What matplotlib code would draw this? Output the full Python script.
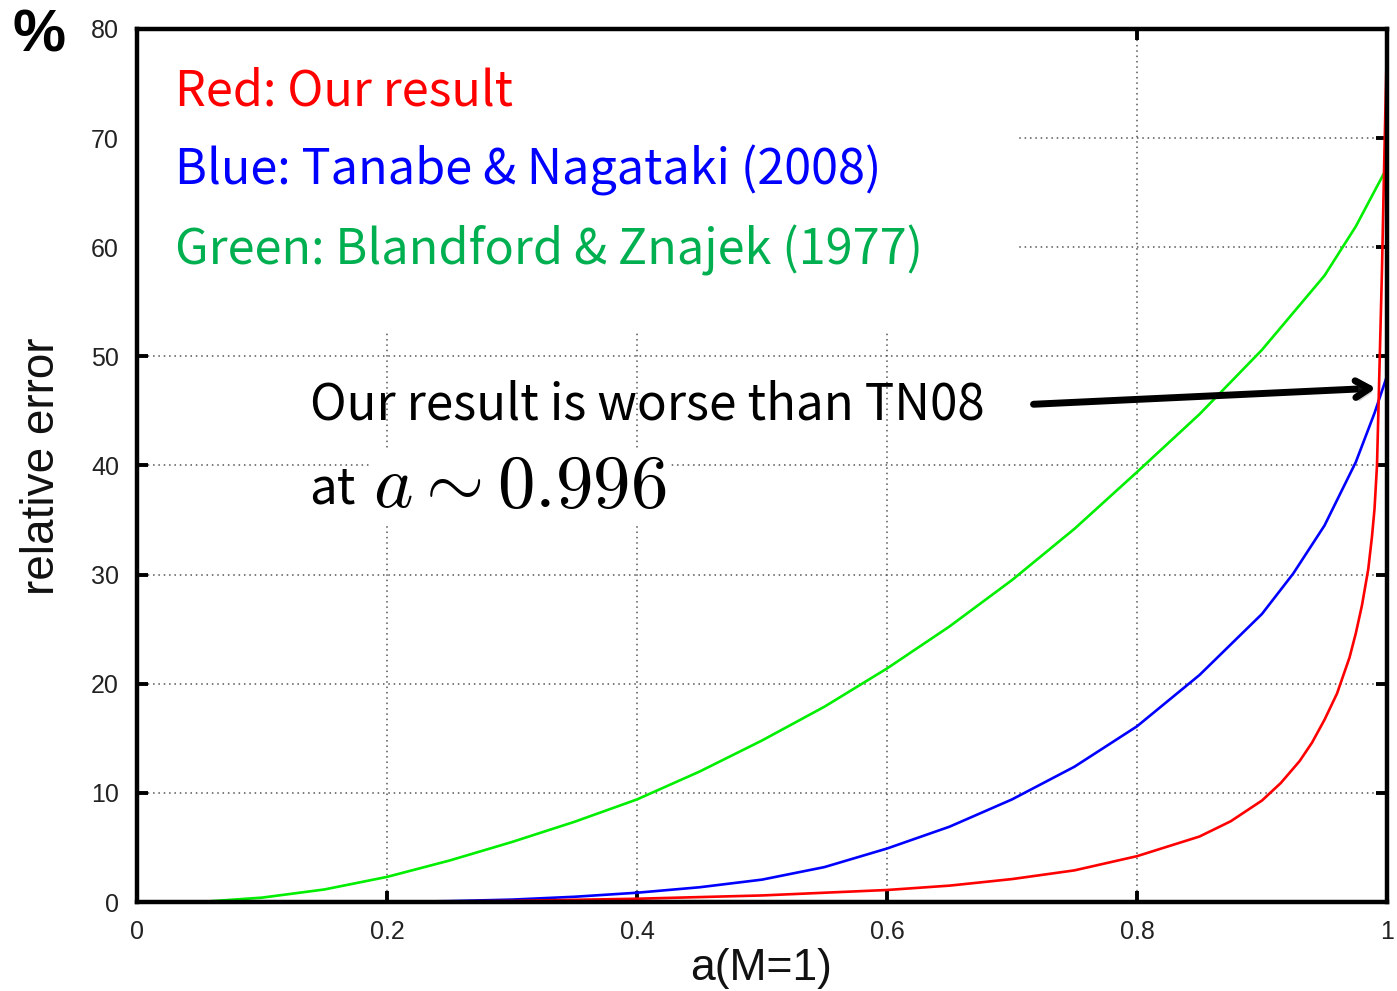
import numpy as np
import matplotlib.pyplot as plt
from matplotlib.patches import Rectangle
import matplotlib.patheffects as pe

plt.rcParams['mathtext.fontset'] = 'cm'

# spin parameter a (M=1) and relative errors in percent
a_green = [0.0, 0.05, 0.1, 0.15, 0.2, 0.25, 0.3, 0.35, 0.4, 0.45, 0.5,
           0.55, 0.6, 0.65, 0.7, 0.75, 0.8, 0.85, 0.9, 0.95, 0.975, 1.0]
err_green = [0.0, 0.0, 0.4, 1.15, 2.3, 3.8, 5.5, 7.35, 9.4, 11.95, 14.8,
             17.9, 21.4, 25.25, 29.5, 34.2, 39.4, 44.7, 50.6, 57.4, 61.9, 67.3]

a_blue = [0.0, 0.1, 0.2, 0.25, 0.3, 0.35, 0.4, 0.45, 0.5, 0.55, 0.6, 0.65,
          0.7, 0.75, 0.8, 0.85, 0.9, 0.925, 0.95, 0.975, 0.99, 1.0]
err_blue = [0.0, 0.0, 0.0, 0.08, 0.22, 0.48, 0.85, 1.35, 2.05, 3.2, 4.9,
            6.9, 9.4, 12.4, 16.1, 20.8, 26.4, 30.1, 34.5, 40.3, 44.8, 48.2]

a_red = [0.0, 0.2, 0.3, 0.4, 0.5, 0.6, 0.65, 0.7, 0.75, 0.8, 0.85, 0.875,
         0.9, 0.915, 0.93, 0.94, 0.95, 0.96, 0.97, 0.975, 0.98, 0.985,
         0.988, 0.99, 0.992, 0.994, 0.996, 0.998, 1.0]
err_red = [0.0, 0.0, 0.1, 0.3, 0.6, 1.1, 1.5, 2.1, 2.9, 4.2, 6.0, 7.4,
           9.3, 10.9, 12.9, 14.6, 16.7, 19.1, 22.4, 24.6, 27.2, 30.5,
           33.5, 36.0, 40.0, 49.0, 58.0, 69.0, 79.0]

xticks = [0, 0.2, 0.4, 0.6, 0.8, 1]
xticklabels = ['0', '0.2', '0.4', '0.6', '0.8', '1']
yticks = [0, 10, 20, 30, 40, 50, 60, 70, 80]

legend_lines = [('Red: Our result', '#ff0000'),
                ('Blue: Tanabe & Nagataki (2008)', '#0000ff'),
                ('Green: Blandford & Znajek (1977)', '#00b050')]

fig = plt.figure(figsize=(13.97, 9.91), dpi=100)
ax = fig.add_axes([137 / 1397, 89 / 991, 1250 / 1397, 873 / 991])

ax.plot(a_green, err_green, color='#00ee00', lw=1.9, zorder=3)
ax.plot(a_blue, err_blue, color='#0000ff', lw=1.9, zorder=3)
ax.plot(a_red, err_red, color='#ff0000', lw=1.9, zorder=3)

ax.set_xlim(0, 1)
ax.set_ylim(0, 80)
ax.set_xticks(xticks)
ax.set_xticklabels(xticklabels)
ax.set_yticks(yticks)
ax.tick_params(direction='in', length=8, width=2.8, top=True, right=True,
               labelsize=18, labelcolor='#222222', pad=13)
for lab in ax.get_xticklabels() + ax.get_yticklabels():
    lab.set_family('Liberation Sans')
for sp in ax.spines.values():
    sp.set_linewidth(3.2)
    sp.set_zorder(5)

ax.grid(True, linestyle=(0, (1, 2.5)), color='#555555', lw=1.1, zorder=1)
ax.set_axisbelow(True)

# white block behind the colour key hides the grid there
ax.add_patch(Rectangle((0, (901 - 330) / 872), (1018 - 137) / 1250, 1,
                       transform=ax.transAxes, facecolor='white',
                       edgecolor='none', zorder=2))

tfont = ['Noto Sans CJK JP', 'DejaVu Sans']
ys = [0.928, 0.838, 0.746]
for (txt, c), y in zip(legend_lines, ys):
    ax.text(0.0304, y, txt, color=c, fontsize=35, family=tfont,
            ha='left', va='center', transform=ax.transAxes, zorder=4)

ax.text(0.138, 0.569, 'Our result is worse than TN08', fontsize=35.5,
        family=tfont, ha='left', va='center', transform=ax.transAxes,
        zorder=4)
ax.text(0.138, 0.456, 'at', fontsize=35.5, family=tfont, ha='left',
        va='baseline', transform=ax.transAxes, zorder=4)
ax.text(0.189, 0.453, r'$a \sim 0.996$', fontsize=54, ha='left',
        va='baseline', transform=ax.transAxes, zorder=4,
        bbox=dict(facecolor='white', edgecolor='none', pad=1))

ax.annotate('', xy=(0.9935, 47.1), xytext=(0.715, 45.6),
            arrowprops=dict(arrowstyle='->, head_length=1.0, head_width=0.6',
                            lw=5, color='black', capstyle='round',
                            path_effects=[pe.SimplePatchShadow(offset=(2, -3), alpha=0.25),
                                          pe.Normal()]),
            zorder=6)

fig.text(12 / 1397, 1 - 36 / 991, '%', fontsize=43, fontweight='bold',
         family='Liberation Sans', ha='left', va='center')
fig.text(42 / 1397, 1 - 466 / 991, 'relative error', fontsize=33,
         family='Liberation Sans', rotation=90, ha='center', va='center',
         color='#111111')
fig.text(761 / 1397, 1 - 980 / 991, 'a(M=1)', fontsize=32,
         family='Liberation Sans', ha='center', va='baseline', color='#111111')

fig.savefig('out.png', dpi=100)
